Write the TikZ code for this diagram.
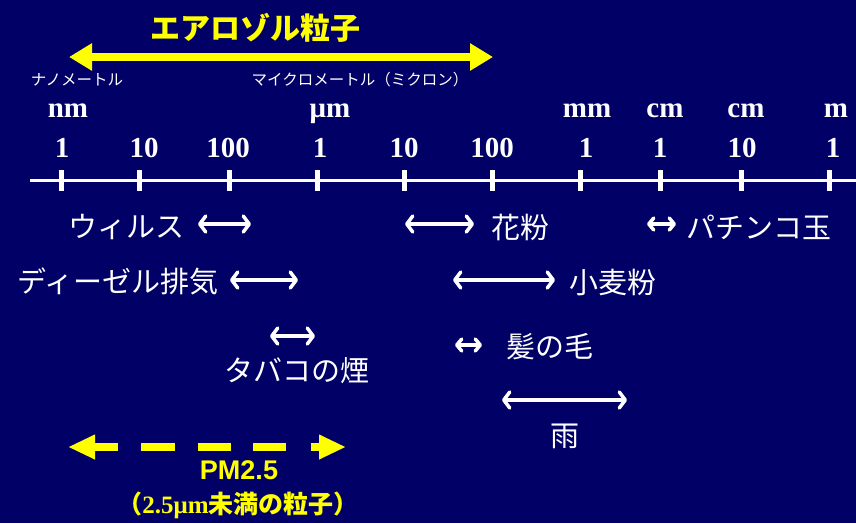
\documentclass[tikz,border=0pt]{standalone}
\usepackage{fontspec}
\setmainfont{Liberation Serif}
\newfontfamily\jp{Noto Sans CJK JP}
\newfontfamily\sansf{Liberation Sans}
\usetikzlibrary{arrows.meta}
\definecolor{bgnavy}{RGB}{0,0,102}
\definecolor{ylw}{RGB}{255,255,0}
\tikzset{
  lbl/.style={inner sep=0pt, text=white, font=\jp\fontsize{29}{32}\selectfont},
  smalllbl/.style={inner sep=0pt, text=white, font=\jp\fontsize{15.5}{17}\selectfont},
  numlbl/.style={inner sep=0pt, anchor=base, text=white, font=\bfseries\fontsize{29}{32}\selectfont},
  sizerange/.style={white, line width=3.5pt, {Straight Barb[length=6pt,width=16pt,round]}-{Straight Barb[length=6pt,width=16pt,round]}},
  shortrange/.style={white, line width=3.5pt, {Straight Barb[length=5pt,width=12pt,round]}-{Straight Barb[length=5pt,width=12pt,round]}},
  tickmark/.style={white, line width=5pt},
}
\begin{document}
\begin{tikzpicture}[x=1pt,y=-1pt]
\fill[bgnavy] (0,0) rectangle (856,523);
\useasboundingbox (0,0) rectangle (856,523);

% title and aerosol arrow
\node[inner sep=0pt, text=ylw, font=\jp\bfseries\fontsize{30}{32}\selectfont] (title) at (255,28) {エアロゾル粒子};
\coordinate (aL) at (69,57);
\coordinate (aR) at (493,57);
\draw[ylw, line width=8pt, {Triangle[length=23pt,width=26pt]}-{Triangle[length=23pt,width=26pt]}] (aL) -- (aR);

% unit descriptions
\node[smalllbl] (nano) at (77,80) {ナノメートル};
\node[smalllbl] (micro) at (360,80) {マイクロメートル（ミクロン）};

% units
\node[numlbl] (u1) at (68,117) {nm};
\node[numlbl] (u2) at (330,117) {μm};
\node[numlbl] (u3) at (587,117) {mm};
\node[numlbl] (u4) at (665,117) {cm};
\node[numlbl] (u5) at (746,117) {cm};
\node[numlbl] (u6) at (836,117) {m};

% numbers
\node[numlbl] (n1) at (62,157) {1};
\node[numlbl] (n2) at (144,157) {10};
\node[numlbl] (n3) at (228,157) {100};
\node[numlbl] (n4) at (320,157) {1};
\node[numlbl] (n5) at (404,157) {10};
\node[numlbl] (n6) at (492,157) {100};
\node[numlbl] (n7) at (586,157) {1};
\node[numlbl] (n8) at (660,157) {1};
\node[numlbl] (n9) at (742,157) {10};
\node[numlbl] (n10) at (833,157) {1};

% axis
\coordinate (axL) at (30,180);
\coordinate (axR) at (856,180);
\draw[white, line width=3pt] (axL) -- (axR);
\foreach \x in {61,139,229,317,404,492,580,660,741,829}{
  \draw[tickmark] (\x,170) -- (\x,191);
}

% ranges
\node[lbl] (virus) at (126,227) {ウィルス};
\coordinate (vL) at (198,224); \coordinate (vR) at (251,224);
\draw[sizerange] (vL) -- (vR);

\node[lbl] (diesel) at (118,281) {ディーゼル排気};
\coordinate (dL) at (230,280); \coordinate (dR) at (298,280);
\draw[sizerange] (dL) -- (dR);

\coordinate (tL) at (270,336); \coordinate (tR) at (315,336);
\draw[sizerange] (tL) -- (tR);
\node[lbl] (tabaco) at (297,371) {タバコの煙};

\coordinate (pL) at (405,224); \coordinate (pR) at (474,224);
\draw[sizerange] (pL) -- (pR);
\node[lbl] (pollen) at (520,227) {花粉};

\coordinate (kL) at (647,224); \coordinate (kR) at (676,224);
\draw[shortrange] (kL) -- (kR);
\node[lbl] (pachinko) at (759,227) {パチンコ玉};

\coordinate (fL) at (453,280); \coordinate (fR) at (555,280);
\draw[sizerange] (fL) -- (fR);
\node[lbl] (flour) at (613,282) {小麦粉};

\coordinate (hL) at (455,345); \coordinate (hR) at (482,345);
\draw[shortrange] (hL) -- (hR);
\node[lbl] (hair) at (550,347) {髪の毛};

\coordinate (rL) at (502,400); \coordinate (rR) at (627,400);
\draw[sizerange] (rL) -- (rR);
\node[lbl] (rain) at (565,436) {雨};

% PM2.5
\coordinate (pmL) at (68,447);
\coordinate (pmR) at (346,447);
\draw[ylw, line width=8pt, dash pattern={on 25pt off 23pt on 34pt off 23pt on 33pt off 22pt on 33pt off 25pt on 10pt},
  {Triangle[length=27pt,width=23pt]}-{Triangle[length=27pt,width=23pt]}] (pmL) -- (pmR);
\node[inner sep=0pt, text=ylw, font=\sansf\bfseries\fontsize{27}{30}\selectfont] (pm) at (239,470) {PM2.5};
\node[inner sep=0pt, text=ylw, font=\bfseries\fontsize{25}{28}\selectfont] (pmsub) at (238,505) {{\jp（}2.5μm{\jp 未満の粒子）}};
\end{tikzpicture}
\end{document}
